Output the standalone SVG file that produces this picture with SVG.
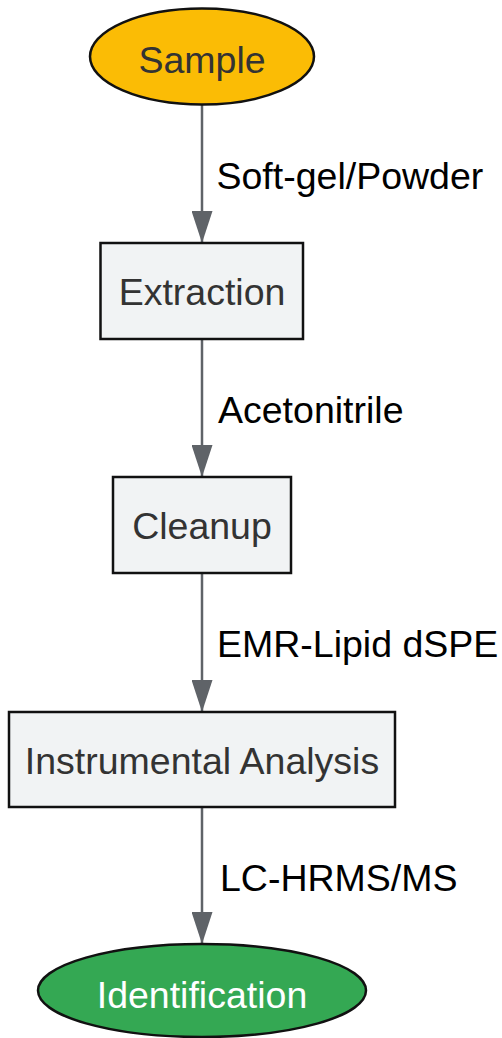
<svg xmlns="http://www.w3.org/2000/svg" width="502" height="1038" viewBox="0 0 502 1038">
<style>
.box{fill:#F1F3F4;stroke:#111;stroke-width:2.5}
.node{font-family:"Liberation Sans",Arial,sans-serif;font-size:37.5px;fill:#333;text-anchor:middle}
.lbl{font-family:"Liberation Sans",Arial,sans-serif;font-size:37.5px;fill:#000}
.edge{stroke:#5F6368;stroke-width:2.5;fill:none}
</style>
<defs>
<marker id="ah" viewBox="0 0 32 21" markerWidth="32" markerHeight="21" refX="32" refY="10.5" orient="auto" markerUnits="userSpaceOnUse">
<path d="M0,0 L32,10.5 L0,21 z" fill="#5F6368"/>
</marker>
</defs>
<rect width="502" height="1038" fill="#fff"/>
<g id="connectors">
<line class="edge" x1="202" y1="105" x2="202" y2="243" marker-end="url(#ah)"/>
<line class="edge" x1="202" y1="339" x2="202" y2="477" marker-end="url(#ah)"/>
<line class="edge" x1="202" y1="573" x2="202" y2="712" marker-end="url(#ah)"/>
<line class="edge" x1="202" y1="807" x2="202" y2="944" marker-end="url(#ah)"/>
<text class="lbl" x="216.5" y="189">Soft-gel/Powder</text>
<text class="lbl" x="218" y="422.5">Acetonitrile</text>
<text class="lbl" x="217" y="657">EMR-Lipid dSPE</text>
<text class="lbl" x="220" y="891">LC-HRMS/MS</text>
</g>
<g id="sample">
<ellipse cx="202" cy="56.5" rx="112" ry="48" fill="#FBBC05" stroke="#111" stroke-width="2.5"/>
<text class="node" x="202" y="73">Sample</text>
</g>
<g id="extraction">
<rect class="box" x="100.5" y="243" width="202.5" height="96"/>
<text class="node" x="202" y="305">Extraction</text>
</g>
<g id="cleanup">
<rect class="box" x="113" y="477" width="178" height="96"/>
<text class="node" x="202" y="539">Cleanup</text>
</g>
<g id="instrumental">
<rect class="box" x="9" y="712" width="386" height="95"/>
<text class="node" x="202" y="774">Instrumental Analysis</text>
</g>
<g id="identification">
<ellipse cx="202" cy="990.5" rx="164" ry="46.5" fill="#34A853" stroke="#111" stroke-width="2.5"/>
<text class="node" x="202" y="1008" style="fill:#fff">Identification</text>
</g>
</svg>
